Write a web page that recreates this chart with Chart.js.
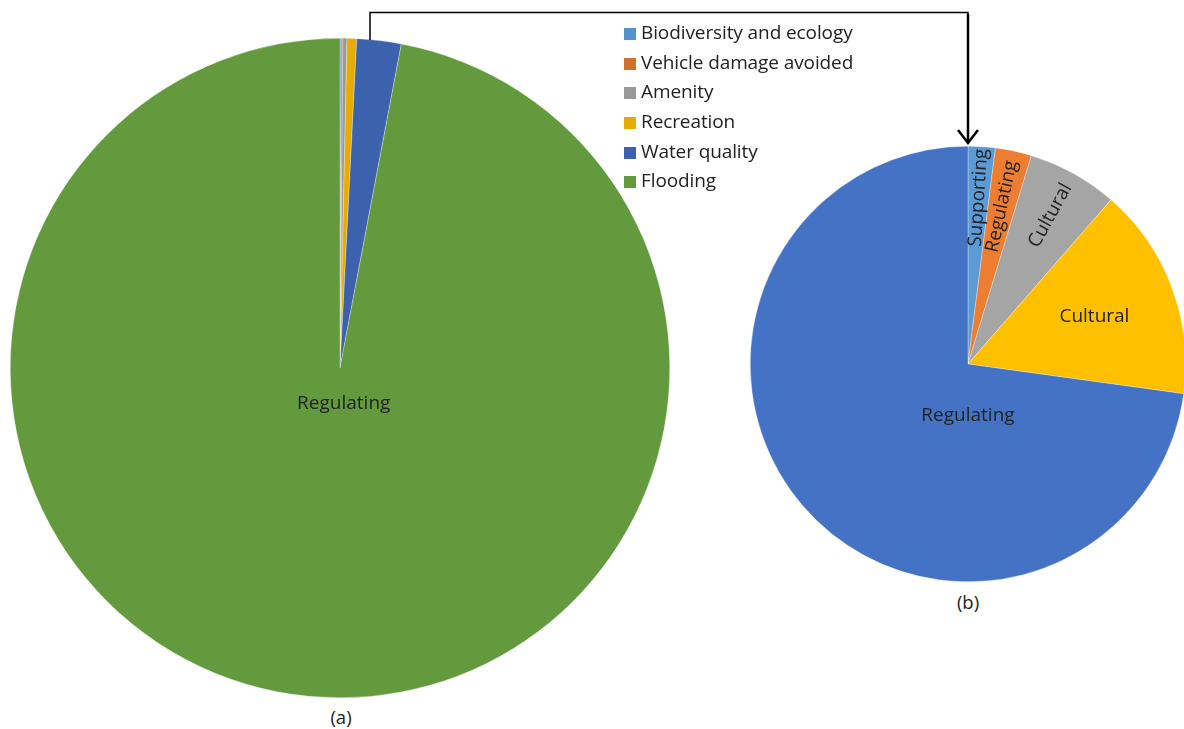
<!DOCTYPE html>
<html>
<head>
<meta charset="utf-8">
<script src="https://cdn.jsdelivr.net/npm/chart.js@4.4.1/dist/chart.umd.min.js"></script>
<style>
  html, body { margin: 0; padding: 0; background: #fff; overflow: hidden; }
  #page { position: relative; width: 1184px; height: 729px; overflow: hidden; font-family: "Open Sans", sans-serif; color: #222; }
  .box { position: absolute; }
  #pieA { left: 10px; top: 38px; width: 660px; height: 660px; }
  #pieB { left: 750px; top: 146px; width: 436px; height: 436px; }
  .cap { position: absolute; font-size: 18.5px; transform: translateX(-50%); }
  #legend { position: absolute; left: 624px; top: 18px; font-size: 19px; letter-spacing: -0.1px; }
  #legend div { height: 29.7px; line-height: 29.7px; white-space: nowrap; }
  #legend span { display: inline-block; width: 12px; height: 12px; margin-right: 5px; vertical-align: -1px; }
  svg { position: absolute; left: 0; top: 0; }
</style>
</head>
<body>
<div id="page">
  <div class="box" id="pieA"><canvas id="chartA"></canvas></div>
  <div class="box" id="pieB"><canvas id="chartB"></canvas></div>
  <div class="cap" style="left:341px; top:704px">(a)</div>
  <div class="cap" style="left:968px; top:589px">(b)</div>
  <div id="legend"></div>
  <svg width="1184" height="729">
    <polyline points="370,40 370,12.5 968,12.5 968,144" fill="none" stroke="#000" stroke-width="1.5"/>
    <line x1="968" y1="14" x2="968" y2="143" stroke="#000" stroke-width="2.5"/>
    <polyline points="958,130 968,143 978,130" fill="none" stroke="#000" stroke-width="2.5"/>
  </svg>
</div>
<script>
// value of each benefit, % of the total
const benefits = ['Biodiversity and ecology', 'Vehicle damage avoided', 'Amenity', 'Recreation', 'Water quality', 'Flooding'];
const serviceTypes = ['Supporting', 'Regulating', 'Cultural', 'Cultural', 'Regulating', 'Regulating'];
const shareOfTotal = [0.06, 0.08, 0.2, 0.47, 2.17, 97.02];

// (b) is everything except flooding
const excludedInB = 'Flooding';

const coloursA = ['#5592CB', '#D4702E', '#999999', '#E6AC00', '#3C62AD', '#629A3D'];
const coloursB = ['#5B9BD5', '#ED7D31', '#A5A5A5', '#FFC000', '#4472C4'];

// legend
const legend = document.getElementById('legend');
benefits.forEach((name, i) => {
  const row = document.createElement('div');
  row.innerHTML = '<span style="background:' + coloursA[i] + '"></span>' + name;
  legend.appendChild(row);
});

// draws the service type on the slices
const sliceLabels = {
  id: 'sliceLabels',
  afterDatasetsDraw(chart, args, opts) {
    const ctx = chart.ctx;
    const meta = chart.getDatasetMeta(0);
    ctx.save();
    ctx.font = opts.font;
    ctx.fillStyle = opts.color;
    ctx.textAlign = 'center';
    ctx.textBaseline = 'middle';
    opts.items.forEach(it => {
      const arc = meta.data[it.index];
      const p = arc.getProps(['x', 'y', 'startAngle', 'endAngle', 'outerRadius'], true);
      const a = it.angle !== undefined ? (it.angle - 90) * Math.PI / 180 : (p.startAngle + p.endAngle) / 2;
      const r = p.outerRadius * it.dist;
      ctx.save();
      ctx.translate(p.x + Math.cos(a) * r, p.y + Math.sin(a) * r);
      if (it.radial) ctx.rotate(a);
      ctx.fillText(chart.data.datasets[0].serviceTypes[it.index], 0, 0);
      ctx.restore();
    });
    ctx.restore();
  }
};

const baseOptions = {
  responsive: true,
  maintainAspectRatio: false,
  animation: false,
  layout: { padding: 0 },
  plugins: { legend: { display: false }, tooltip: { enabled: false } }
};

const keepB = benefits.map((b, i) => i).filter(i => benefits[i] !== excludedInB);

new Chart(document.getElementById('chartA'), {
  type: 'pie',
  data: {
    labels: benefits,
    datasets: [{
      data: shareOfTotal,
      serviceTypes: serviceTypes,
      backgroundColor: coloursA,
      borderColor: 'rgba(255,255,255,0.6)',
      borderWidth: 0.5
    }]
  },
  options: Object.assign({}, baseOptions, {
    plugins: Object.assign({}, baseOptions.plugins, {
      sliceLabels: {
        font: '19px "Open Sans"',
        color: '#222',
        items: [{ index: 5, dist: 0.108, angle: 174 }]
      }
    })
  }),
  plugins: [sliceLabels]
});

new Chart(document.getElementById('chartB'), {
  type: 'pie',
  data: {
    labels: keepB.map(i => benefits[i]),
    datasets: [{
      data: keepB.map(i => shareOfTotal[i]),
      serviceTypes: keepB.map(i => serviceTypes[i]),
      backgroundColor: coloursB,
      borderColor: 'rgba(255,255,255,0.6)',
      borderWidth: 0.5
    }]
  },
  options: Object.assign({}, baseOptions, {
    plugins: Object.assign({}, baseOptions.plugins, {
      sliceLabels: {
        font: '19px "Open Sans"',
        color: '#222',
        items: [
          { index: 0, dist: 0.765, radial: true },
          { index: 1, dist: 0.74, radial: true },
          { index: 2, dist: 0.78, radial: true },
          { index: 3, dist: 0.62 },
          { index: 4, dist: 0.235, angle: 180 }
        ]
      }
    })
  }),
  plugins: [sliceLabels]
});
</script>
</body>
</html>
